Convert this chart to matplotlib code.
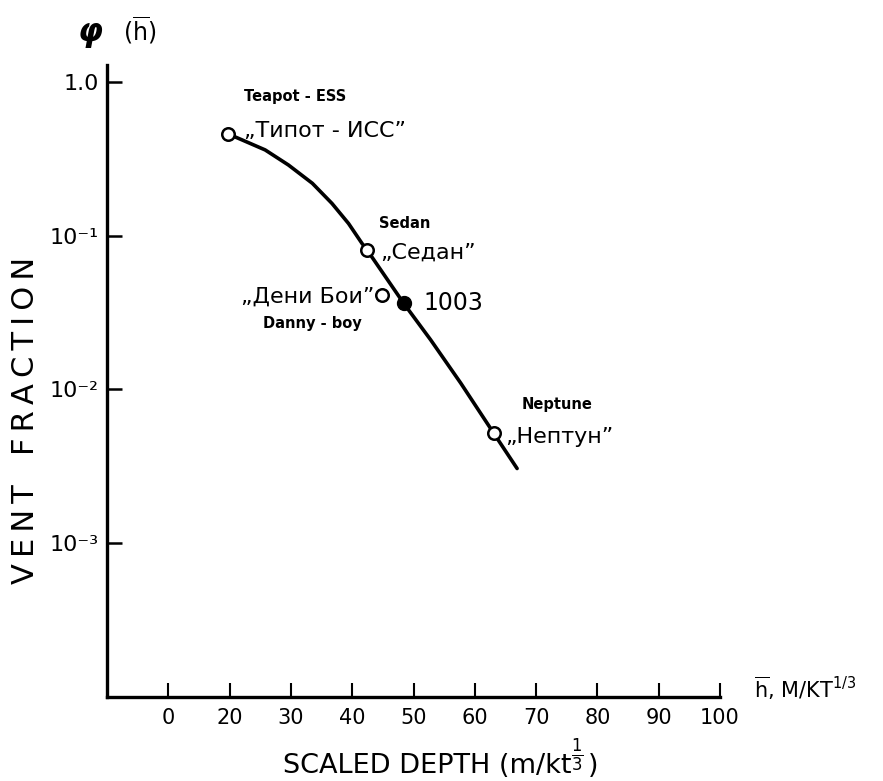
import matplotlib
matplotlib.use("Agg")
import matplotlib.pyplot as plt
from matplotlib.ticker import FixedLocator, NullLocator

plt.rcParams['font.family'] = ['DejaVu Sans']
plt.rcParams['mathtext.fontset'] = 'dejavusans'

# Scaled depth (m/kt^1/3) and vent fraction of the events
events = ["Teapot - ESS", "Sedan", "Danny - boy", "Neptune"]
events_ru = ["\u201eТипот - ИСС\u201d", "\u201eСедан\u201d", "\u201eДени Бои\u201d", "\u201eНептун\u201d"]
event_depth = [19.75, 42.4, 44.9, 63.1]
event_vent = [0.459, 0.0807, 0.0411, 0.00518]

shot_label = "1003"
shot_depth = 48.4
shot_vent = 0.0363

# Fitted curve through the events
curve_depth = [19.75, 22.0, 25.8, 29.6, 33.5, 36.7, 39.4, 41.6, 42.4, 48.4, 52.8, 57.7, 63.1, 66.9]
curve_vent = [0.459, 0.420, 0.361, 0.288, 0.219, 0.162, 0.120, 0.089, 0.081, 0.0363,
              0.0210, 0.0110, 0.00518, 0.00306]

x_ticks = [10, 20, 30, 40, 50, 60, 70, 80, 90, 100]
x_tick_labels = ["0", "20", "30", "40", "50", "60", "70", "80", "90", "100"]
y_ticks = [1.0, 1e-1, 1e-2, 1e-3]
y_tick_labels = ["1.0", "10\u207b\u00b9", "10\u207b\u00b2", "10\u207b\u00b3"]

W, H = 883, 781
fig = plt.figure(figsize=(W / 100, H / 100), dpi=100)
ax = fig.add_axes([0.1212, 0.1076, 0.8154 - 0.1212, 0.9168 - 0.1076])


def fx(px):
    return px / W


def fy(py):
    return 1 - py / H


ax.set_yscale("log")
ax.set_xlim(0, 100)
ax.set_ylim(10 ** -4.0, 10 ** 0.11)

for side in ("top", "right"):
    ax.spines[side].set_visible(False)
for side in ("left", "bottom"):
    ax.spines[side].set_linewidth(2.4)

ax.xaxis.set_major_locator(FixedLocator(x_ticks))
ax.set_xticklabels(x_tick_labels)
ax.yaxis.set_major_locator(FixedLocator(y_ticks))
ax.yaxis.set_minor_locator(NullLocator())
ax.set_yticklabels(y_tick_labels)
ax.tick_params(axis="x", direction="in", length=10, width=1.5, labelsize=15, pad=8)
ax.tick_params(axis="y", direction="in", length=11, width=1.8, labelsize=16, pad=6)

# curve
ax.plot(curve_depth, curve_vent, color="black", lw=2.6, solid_capstyle="round",
        solid_joinstyle="round", zorder=2)

# open circles for events
ax.plot(event_depth, event_vent, linestyle="none", marker="o", ms=9,
        mfc="white", mec="black", mew=1.8, zorder=3)
# filled circle for shot 1003
ax.plot([shot_depth], [shot_vent], linestyle="none", marker="o", ms=10,
        mfc="black", mec="black", zorder=3)

# event labels
en_pos = [(295, 97), (405, 223), (312, 324), (557, 404)]
ru_pos = [(244, 131, "left"), (380, 253, "left"), (374, 297, "right"), (505, 437, "left")]
for name, ru, (ex, ey), (rx, ry, ha) in zip(events, events_ru, en_pos, ru_pos):
    fig.text(fx(ex), fy(ey), name, ha="center", va="center",
             fontsize=10.5, fontweight="bold")
    fig.text(fx(rx), fy(ry), ru, ha=ha, va="center", fontsize=16)

fig.text(fx(423), fy(303), shot_label, ha="left", va="center", fontsize=17)

# y-axis titles
fig.text(fx(90), fy(32), "φ", ha="center", va="center", fontsize=23,
         fontstyle="italic", fontweight="bold")
fig.text(fx(140), fy(30), r"($\overline{\mathrm{h}}$)", ha="center", va="center",
         fontsize=17)
ts = "\u2009"
fig.text(fx(26), fy(420), ts.join("VENT") + "   " + ts.join("FRACTION"), rotation=90,
         ha="center", va="center", fontsize=22)

# x-axis titles, with a stacked 1/3 exponent
renderer = fig.canvas.get_renderer()
base_y = 773
t_main = fig.text(fx(283), fy(base_y), "SCALED DEPTH (m/kt", ha="left",
                  va="baseline", fontsize=19.5)
r_px = t_main.get_window_extent(renderer).x1
cx = r_px + 6
fig.text(cx / W, fy(755), r"$\frac{1}{3}$", ha="center", va="center", fontsize=17)
fig.text((cx + 10) / W, fy(base_y), ")", ha="left", va="baseline", fontsize=19.5)

fig.text(fx(754), fy(688), r"$\overline{\mathrm{h}}$, M/KT$^{1/3}$", ha="left",
         va="center", fontsize=15)

fig.savefig("out.png", dpi=100)
